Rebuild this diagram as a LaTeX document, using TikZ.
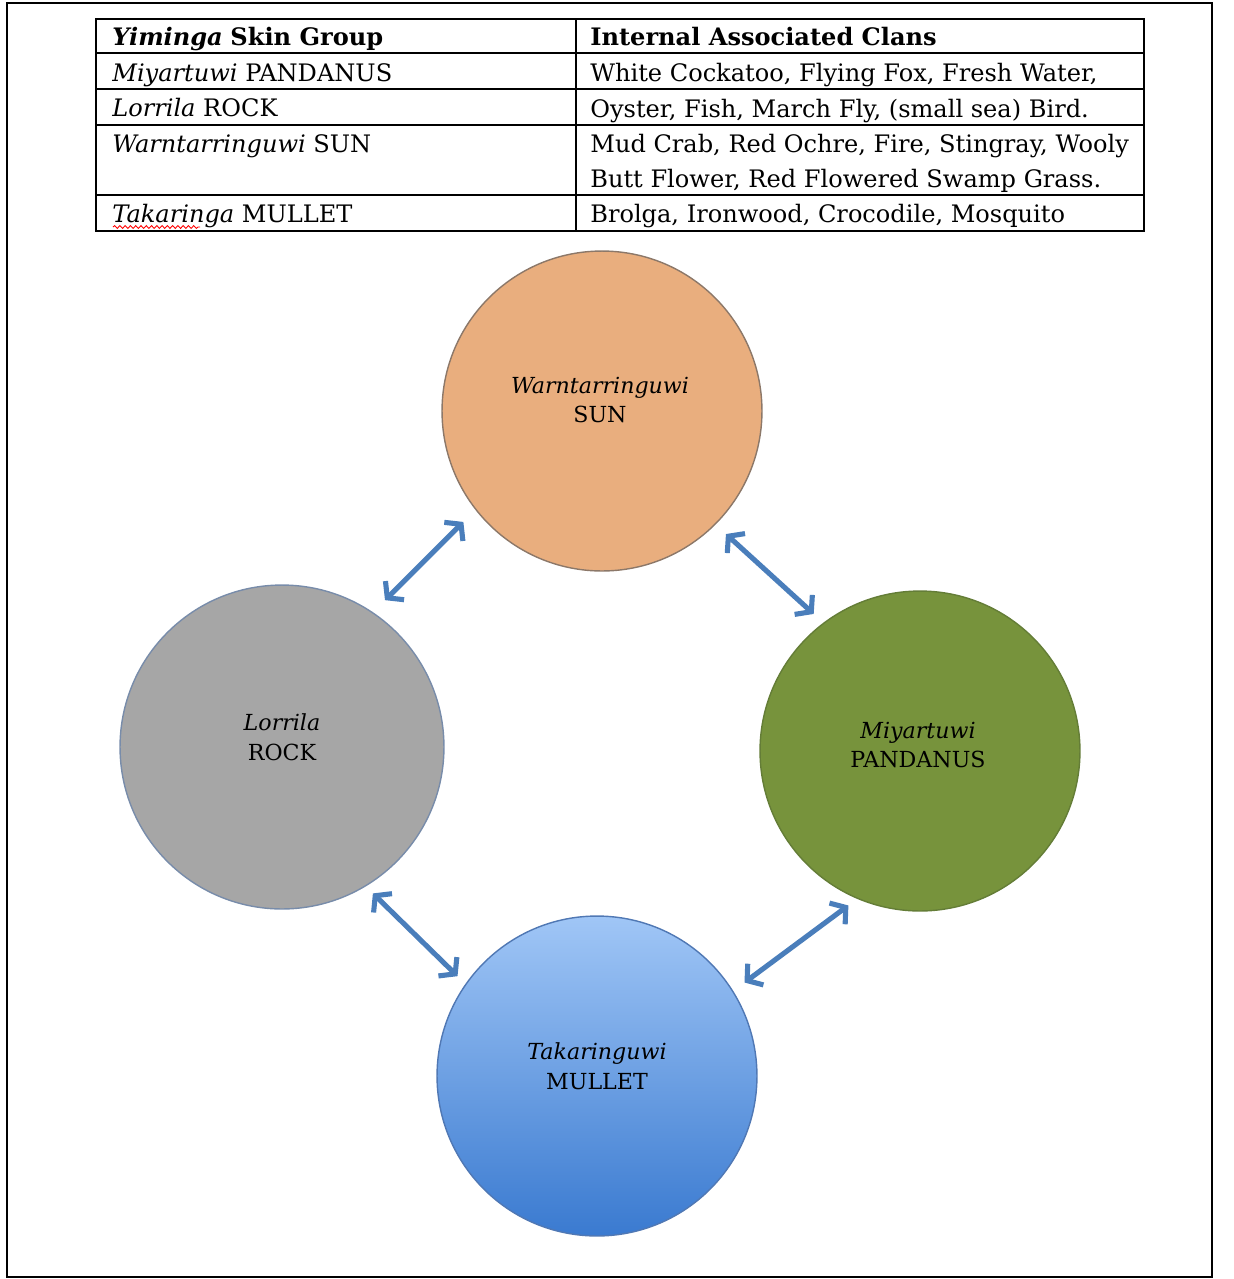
\documentclass[tikz,border=0pt]{standalone}
\usepackage{fontspec}
\setmainfont{DejaVu Serif}
\usetikzlibrary{positioning,arrows.meta,decorations.pathmorphing}

\definecolor{sunfill}{RGB}{233,174,126}
\definecolor{sunline}{RGB}{140,120,105}
\definecolor{rockfill}{RGB}{166,166,166}
\definecolor{rockline}{RGB}{120,140,170}
\definecolor{pandfill}{RGB}{119,147,60}
\definecolor{pandline}{RGB}{100,125,55}
\definecolor{mulltop}{RGB}{160,198,246}
\definecolor{mullbot}{RGB}{58,122,208}
\definecolor{mullline}{RGB}{80,120,180}
\definecolor{arrowblue}{RGB}{74,126,187}

\begin{document}
\begin{tikzpicture}[x=0.02cm,y=-0.02cm,
	clan/.style={circle,minimum size=6.4cm,inner sep=0pt,line width=0.8pt},
	cell/.style={anchor=base west,inner sep=0pt,font=\fontsize{13.7}{16}\selectfont},
	circtxt/.style={align=center,inner sep=0pt,font=\fontsize{12.6}{17}\selectfont},
	link/.style={arrowblue,line width=2.9pt,{Straight Barb[length=6pt,width=15pt]}-{Straight Barb[length=6pt,width=15pt]},shorten <=0.28cm,shorten >=0.28cm}]
		\useasboundingbox (0,0) rectangle (1234,1279);
		\draw[line width=1.2pt] (7,3) rectangle (1212,1277);
		% table
		\draw[line width=1.1pt] (96,19) rectangle (1144,231);
		\draw[line width=1pt] (576,19) -- (576,231);
		\draw[line width=1pt] (96,53) -- (1144,53);
		\draw[line width=1pt] (96,89) -- (1144,89);
		\draw[line width=1pt] (96,125) -- (1144,125);
		\draw[line width=1pt] (96,195) -- (1144,195);
		\node[cell] (h1) at (112,45) {\textbf{\textit{Yiminga}} \textbf{Skin Group}};
		\node[cell] (h2) at (590,45) {\textbf{Internal Associated Clans}};
		\node[cell] (r1) at (112,81) {\textit{Miyartuwi} PANDANUS};
		\node[cell] (r2) at (112,116) {\textit{Lorrila} ROCK};
		\node[cell] (r3) at (112,152) {\textit{Warntarringuwi} SUN};
		\node[cell] (r4) at (112,222) {\textit{Takaringa} MULLET};
		\node[cell] (c1) at (590,81) {White Cockatoo, Flying Fox, Fresh Water,};
		\node[cell] (c2) at (590,117) {Oyster, Fish, March Fly, (small sea) Bird.};
		\node[cell] (c3) at (590,152) {Mud Crab, Red Ochre, Fire, Stingray, Wooly};
		\node[cell] (c3b) at (590,187) {Butt Flower, Red Flowered Swamp Grass.};
		\node[cell] (c4) at (590,222) {Brolga, Ironwood, Crocodile, Mosquito};
		\draw[red,line width=0.5pt,decorate,decoration={snake,amplitude=0.8pt,segment length=3pt}] (113,227) -- (200,227);
		% skin groups
		\node[clan,draw=sunline,fill=sunfill] (sun) at (602,411) {};
		\node[clan,draw=rockline,fill=rockfill,minimum size=6.48cm] (rock) at (282,747) {};
		\node[clan,draw=pandline,fill=pandfill] (pand) at (920,751) {};
		\node[clan,draw=mullline,top color=mulltop,bottom color=mullbot] (mull) at (597,1076) {};
		\node[circtxt] (suntxt) at (600,400) {\textit{Warntarringuwi}\\SUN};
		\node[circtxt] (rocktxt) at (282,737) {\textit{Lorrila}\\ROCK};
		\node[circtxt] (pandtxt) at (918,745) {\textit{Miyartuwi}\\PANDANUS};
		\node[circtxt] (mulltxt) at (597,1066) {\textit{Takaringuwi}\\MULLET};
		\draw[link,shorten <=0.34cm,shorten >=0.34cm] (sun.218) -- (rock.56);
		\draw[link,shorten >=0.26cm] (sun.315) -- (pand.127);
		\draw[link,shorten <=0.2cm,shorten >=0.22cm] (rock.301) -- (mull.145);
		\draw[link,shorten <=0.22cm] (pand.247) -- (mull.32);
	\end{tikzpicture}
\end{document}
